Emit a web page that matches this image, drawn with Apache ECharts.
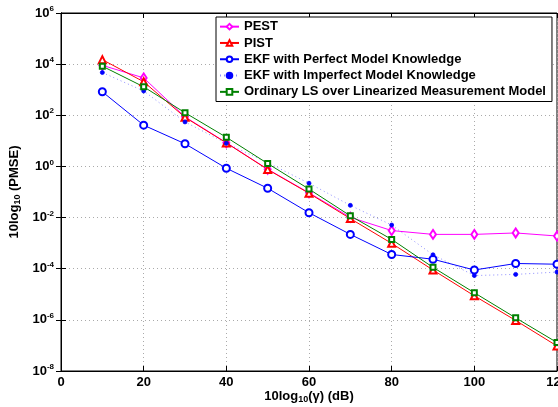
<!DOCTYPE html>
<html><head><meta charset="utf-8">
<script src="https://cdn.jsdelivr.net/npm/echarts@6/dist/echarts.min.js"></script>
<style>html,body{margin:0;padding:0;background:#fff}#c{width:558px;height:407px}</style>
</head><body><div id="c"></div>
<script>
const snr = [10,20,30,40,50,60,70,80,90,100,110,120];
const pest = [9e3,2.9e3,87,8.5,0.78,0.093,0.0102,0.0031,0.0022,0.0022,0.0025,0.0019];
const pist = [1.5e4,2.05e3,83,8.3,0.76,0.089,0.0091,0.00098,8.9e-5,8.7e-6,9.5e-7,9.5e-8];
const ekfPerfect = [830,41,7.7,0.85,0.14,0.0155,0.0022,3.6e-4,2.35e-4,8.9e-5,1.6e-4,1.5e-4];
const ekfImperfect = [4.7e3,890,55,8,1.4,0.22,0.030,0.0051,3.5e-4,5.4e-5,6.0e-5,7.4e-5];
const ols = [8.3e3,1.3e3,126,13.8,1.3,0.13,0.0117,0.0014,1.13e-4,1.15e-5,1.2e-6,1.3e-7];
const xTicks = [0,20,40,60,80,100,120];
const yTickExps = [-8,-6,-4,-2,0,2,4,6];
const names = ['PEST','PIST','EKF with Perfect Model Knowledge','EKF with Imperfect Model Knowledge','Ordinary LS over Linearized Measurement Model'];

const pair = arr => snr.map((x,i)=>[x,arr[i]]);
const FONT = '"Liberation Sans", Arial, Helvetica, sans-serif';
const chart = echarts.init(document.getElementById('c'));
const mk = (name, data, color, symbol, size, ls) => ({
  name, type:'line', data: pair(data), symbol, symbolSize: size,
  lineStyle: Object.assign({color, width:1}, ls||{}),
  itemStyle: {color, borderColor: color, borderWidth: 0.8},
  emphasis:{disabled:true}, animation:false
});
chart.setOption({
  animation:false,
  textStyle:{fontFamily:FONT},
  grid:{left:61, right:1, top:13, bottom:36, outerBoundsMode:'none', containLabel:false,
        show:true, borderColor:'#000', borderWidth:1},
  legend:{
    orient:'vertical', left:216, top:17, itemWidth:19, itemHeight:7, itemGap:1,
    padding:[2,6,2,3], borderColor:'#000', borderWidth:1, backgroundColor:'#fff',
    textStyle:{fontFamily:FONT, fontWeight:'bold', fontSize:13, color:'#000', lineHeight:15.3},
    data: names
  },
  xAxis:[{
    type:'value', min:0, max:120, interval:20,
    axisLine:{show:true, lineStyle:{color:'#000', width:1}},
    axisTick:{inside:true, length:5, lineStyle:{color:'#000'}},
    axisLabel:{color:'#000', fontWeight:'bold', fontSize:13, margin:5, fontFamily:FONT},
    splitLine:{show:true, lineStyle:{color:'#aaa', type:[1,3], width:1}},
    name:'{a|10log}{s|10}{a|(γ) (dB)}', nameLocation:'middle', nameGap:18, nameMoveOverlap:false,
    nameTextStyle:{rich:{a:{fontWeight:'bold', fontSize:13, color:'#000', fontFamily:FONT},
      s:{fontWeight:'bold', fontSize:9, color:'#000', verticalAlign:'bottom', padding:[6,0,0,0], fontFamily:FONT}}}
  },{
    type:'value', min:0, max:120, interval:20, position:'top',
    axisLine:{show:true, lineStyle:{color:'#000'}}, axisTick:{inside:true, length:5, lineStyle:{color:'#000'}},
    axisLabel:{show:false}, splitLine:{show:false}
  }],
  yAxis:[{
    type:'log', logBase:100, min:1e-8, max:1e6,
    axisLine:{show:true, lineStyle:{color:'#000', width:1}},
    axisTick:{inside:true, length:5, lineStyle:{color:'#000'}},
    minorTick:{show:false},
    axisLabel:{margin:7, fontFamily:FONT,
      formatter: v => { const e = Math.round(Math.log10(v)); return '{b|10}{s|'+e+'}'; },
      rich:{b:{fontWeight:'bold', fontSize:13, color:'#000', fontFamily:FONT},
            s:{fontWeight:'bold', fontSize:8, color:'#000', verticalAlign:'top', padding:[0,0,8,0], fontFamily:FONT}}},
    splitLine:{show:true, lineStyle:{color:'#aaa', type:[1,3], width:1}},
    name:'{a|10log}{s|10}{a| (PMSE)}', nameLocation:'middle', nameGap:39, nameRotate:90, nameMoveOverlap:false,
    nameTextStyle:{rich:{a:{fontWeight:'bold', fontSize:13, color:'#000', fontFamily:FONT},
      s:{fontWeight:'bold', fontSize:9, color:'#000', verticalAlign:'bottom', padding:[6,0,0,0], fontFamily:FONT}}}
  },{
    type:'log', logBase:100, min:1e-8, max:1e6, position:'right',
    axisLine:{show:true, lineStyle:{color:'#000'}}, axisTick:{inside:true, length:5, lineStyle:{color:'#000'}},
    axisLabel:{show:false}, splitLine:{show:false}
  }],
  series:[
    mk(names[0], pest, '#ff00ff', 'emptyDiamond', [6,9]),
    mk(names[1], pist, '#ff0000', 'emptyTriangle', 7),
    mk(names[2], ekfPerfect, '#0000ff', 'emptyCircle', 7),
    mk(names[3], ekfImperfect, '#0000ff', 'circle', 4, {type:[1,3], opacity:0.45}),
    mk(names[4], ols, '#008000', 'emptyRect', 5)
  ]
});
</script></body></html>
